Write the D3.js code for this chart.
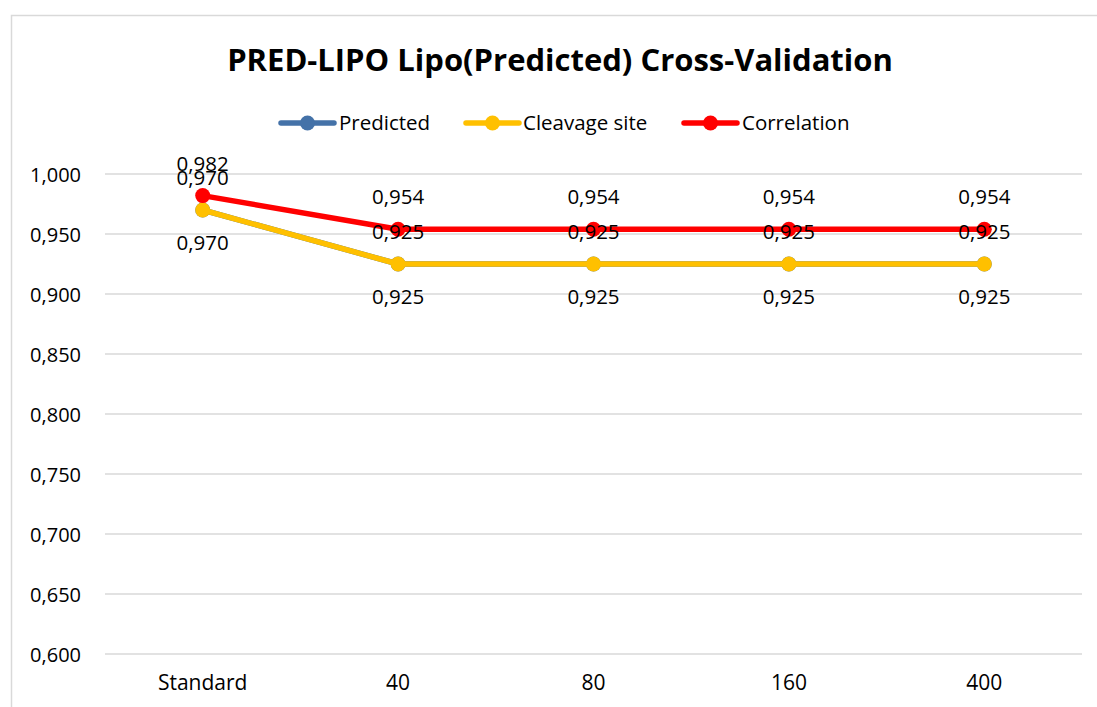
<!DOCTYPE html>
<html>
<head>
<meta charset="utf-8">
<script src="https://cdn.jsdelivr.net/npm/d3@7"></script>
<style>
  html, body { margin: 0; padding: 0; background: #fff; }
  svg { display: block; }
  text { font-family: "Open Sans", "Noto Sans", sans-serif; fill: #000; }
</style>
</head>
<body>
<svg id="chart" width="1097" height="707"></svg>
<script>
const title = "PRED-LIPO Lipo(Predicted) Cross-Validation";
const categories = ["Standard", "40", "80", "160", "400"];
const predicted = [0.970, 0.925, 0.925, 0.925, 0.925];
const cleavage = [0.970, 0.925, 0.925, 0.925, 0.925];
const correlation = [0.982, 0.954, 0.954, 0.954, 0.954];
const yTicks = [0.600, 0.650, 0.700, 0.750, 0.800, 0.850, 0.900, 0.950, 1.000];
const seriesNames = ["Predicted", "Cleavage site", "Correlation"];
const seriesColors = ["#4472A8", "#FFC000", "#FF0000"];
const labelPos = ["above", "below", "above"];

const series = [predicted, cleavage, correlation].map((vals, i) => ({
  name: seriesNames[i], values: vals, color: seriesColors[i], pos: labelPos[i]
}));

const svg = d3.select("#chart");
const W = 1097, H = 707;
const plot = { left: 105, right: 1082, top: 174, bottom: 654 };

// outer chart border
svg.append("rect")
  .attr("x", 11.5).attr("y", 15.5)
  .attr("width", W + 20).attr("height", H + 20)
  .attr("fill", "#fff").attr("stroke", "#D9D9D9").attr("stroke-width", 1.5);

const x = d3.scaleBand().domain(categories).range([plot.left, plot.right]);
const y = d3.scaleLinear().domain([0.6, 1.0]).range([plot.bottom, plot.top]);
const fmt = v => d3.format(".3f")(v).replace(".", ",");

// gridlines
svg.append("g").selectAll("line").data(yTicks).join("line")
  .attr("x1", plot.left).attr("x2", plot.right)
  .attr("y1", d => y(d)).attr("y2", d => y(d))
  .attr("stroke", "#D9D9D9").attr("stroke-width", 1.5);

// y axis labels
const yAxis = d3.axisLeft(y).tickValues(yTicks).tickFormat(fmt).tickSize(0).tickPadding(0);
const gy = svg.append("g").attr("transform", `translate(81,0)`).call(yAxis);
gy.select(".domain").remove();
gy.selectAll("text").attr("font-size", 20).attr("font-family", "Open Sans, sans-serif").attr("fill", "#000").attr("dy", "0.35em");

// x axis labels
const xAxis = d3.axisBottom(x).tickSize(0).tickPadding(0);
const gx = svg.append("g").attr("transform", `translate(0,${plot.bottom + 21})`).call(xAxis);
gx.select(".domain").remove();
gx.selectAll("text").attr("font-size", 21).attr("font-family", "Open Sans, sans-serif").attr("fill", "#000").attr("dy", "0.71em");

const cx = c => x(c) + x.bandwidth() / 2;
const line = d3.line().x((d, i) => cx(categories[i])).y(d => y(d));

// series lines and markers
series.forEach(s => {
  const g = svg.append("g");
  g.append("path").datum(s.values)
    .attr("d", line).attr("fill", "none")
    .attr("stroke", s.color).attr("stroke-width", 5.5)
    .attr("stroke-linejoin", "round").attr("stroke-linecap", "round");
  g.selectAll("circle").data(s.values).join("circle")
    .attr("cx", (d, i) => cx(categories[i])).attr("cy", d => y(d))
    .attr("r", 7.5).attr("fill", s.color);
});

// data labels on top
series.forEach(s => {
  svg.append("g").selectAll("text").data(s.values).join("text")
    .attr("x", (d, i) => cx(categories[i]))
    .attr("y", d => s.pos === "above" ? y(d) - 25 : y(d) + 40)
    .attr("text-anchor", "middle").attr("font-size", 20.5)
    .text(d => fmt(d));
});

// title
svg.append("text")
  .attr("x", 560).attr("y", 71)
  .attr("text-anchor", "middle").attr("font-size", 31).attr("font-weight", "bold")
  .text(title);

// legend
const legendY = 123;
const legendItems = [
  { x1: 281, x2: 334, tx: 339 },
  { x1: 466, x2: 519, tx: 523 },
  { x1: 684, x2: 737, tx: 742 }
];
const lg = svg.append("g");
series.forEach((s, i) => {
  const it = legendItems[i];
  lg.append("line").attr("x1", it.x1).attr("x2", it.x2)
    .attr("y1", legendY).attr("y2", legendY)
    .attr("stroke", s.color).attr("stroke-width", 5.5).attr("stroke-linecap", "round");
  lg.append("circle").attr("cx", (it.x1 + it.x2) / 2).attr("cy", legendY).attr("r", 7.5).attr("fill", s.color);
  lg.append("text").attr("x", it.tx).attr("y", legendY).attr("dy", "0.35em")
    .attr("font-size", 20.5).text(s.name);
});
</script>
</body>
</html>
